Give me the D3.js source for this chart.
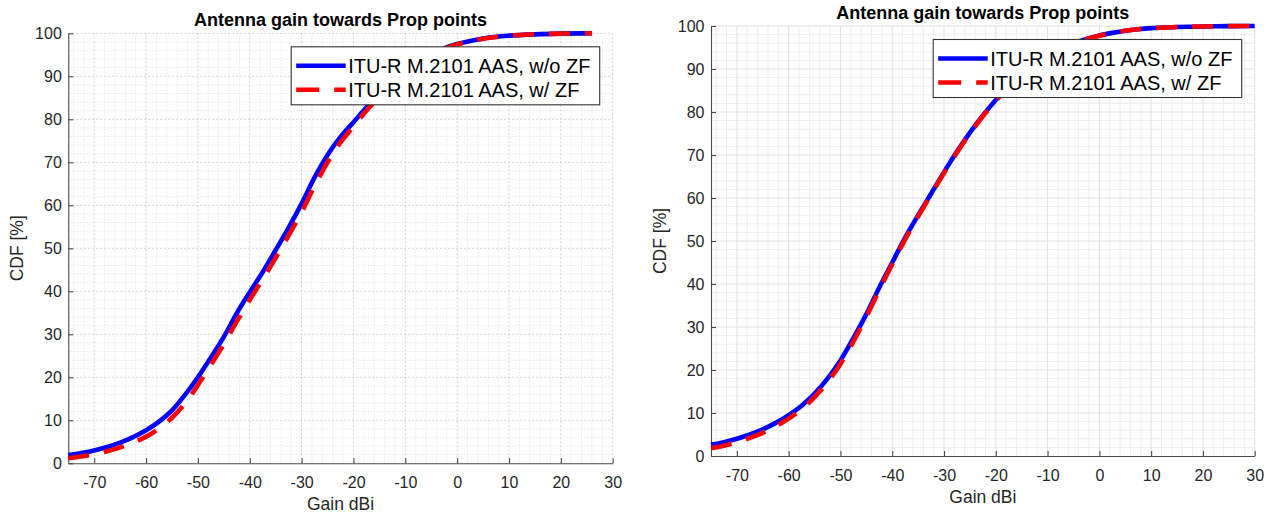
<!DOCTYPE html>
<html>
<head>
<meta charset="utf-8">
<script src="https://cdn.jsdelivr.net/npm/d3@7"></script>
<style>
  html, body { margin: 0; padding: 0; background: #fff; }
  svg { display: block; font-family: "Liberation Sans", Arial, Helvetica, sans-serif; }
</style>
</head>
<body>
<svg id="chart" width="1272" height="515"></svg>
<script>
// Axis ticks and text
const gainTicks = [-70, -60, -50, -40, -30, -20, -10, 0, 10, 20, 30];
const cdfTicks = [0, 10, 20, 30, 40, 50, 60, 70, 80, 90, 100];
const seriesLabels = ["ITU-R M.2101 AAS, w/o ZF", "ITU-R M.2101 AAS, w/ ZF"];
const chartTitle = "Antenna gain towards Prop points";
const xLabel = "Gain dBi";
const yLabel = "CDF [%]";

// Left panel: CDF of antenna gain (%), sampled along gain (dBi)
const leftGain = [-75, -72.5, -70, -67.5, -65, -62.5, -60, -57.5, -55, -52.5, -50, -47.5, -45, -42.5, -40, -37.5, -35, -32.5, -30, -27.5, -25, -22.5, -20, -17.5, -15, -12.5, -10, -7.5, -5, -2.5, 0, 2.5, 5, 7.5, 10, 15, 20, 26];
const leftCdfNoZF = [1.9, 2.4, 3.0, 3.8, 4.8, 6.1, 7.7, 9.7, 12.3, 15.9, 20.0, 24.6, 29.4, 34.9, 39.8, 44.5, 49.6, 54.8, 60.4, 66.5, 71.7, 75.9, 79.3, 82.8, 85.8, 88.6, 91.0, 93.1, 94.9, 96.5, 97.5, 98.2, 98.8, 99.2, 99.45, 99.75, 99.92, 100];
const leftCdfZF   = [1.2, 1.6, 2.1, 2.8, 3.7, 4.8, 6.2, 8.1, 10.6, 13.9, 18.2, 22.9, 27.7, 33.0, 38.0, 42.8, 47.8, 53.0, 58.4, 64.5, 70.0, 74.6, 78.3, 82.0, 85.2, 88.1, 90.6, 92.8, 94.7, 96.35, 97.4, 98.15, 98.75, 99.15, 99.45, 99.75, 99.92, 100];

// Right panel
const rightGain = [-75, -72.5, -70, -67.5, -65, -62.5, -60, -57.5, -55, -52.5, -50, -47.5, -45, -42.5, -40, -37.5, -35, -32.5, -30, -27.5, -25, -22.5, -20, -17.5, -15, -12.5, -10, -7.5, -5, -2.5, 0, 2.5, 5, 7.5, 10, 15, 20, 25, 30];
const rightCdfNoZF = [2.6, 3.2, 4.0, 5.0, 6.2, 7.7, 9.5, 11.7, 14.5, 18.0, 22.2, 27.4, 33.0, 39.2, 45.0, 50.8, 56.0, 61.0, 66.0, 70.8, 75.2, 79.2, 82.8, 86.0, 88.8, 91.2, 93.2, 94.8, 96.0, 97.0, 97.8, 98.4, 98.9, 99.25, 99.5, 99.75, 99.9, 99.97, 100];
const rightCdfZF   = [1.8, 2.4, 3.2, 4.2, 5.4, 6.9, 8.7, 10.9, 13.7, 17.2, 21.4, 26.6, 32.4, 38.6, 44.6, 50.4, 55.7, 60.8, 65.8, 70.6, 75.0, 79.0, 82.6, 85.9, 88.7, 91.1, 93.1, 94.75, 95.95, 96.95, 97.75, 98.4, 98.9, 99.25, 99.5, 99.75, 99.9, 99.97, 100];

const svg = d3.select("#chart");
const textColor = "#262626";
const axisColor = "#4a4a4a";

function drawPanel(p) {
  const x = d3.scaleLinear().domain([-75, 30]).range([p.left, p.right]);
  const y = d3.scaleLinear().domain([0, 100]).range([p.bottom, p.top]);
  const g = svg.append("g");

  // minor grid every 2 units
  const minorX = d3.range(-74, 31, 2).filter(v => v % 10 !== 0);
  const minorY = d3.range(2, 100, 2).filter(v => v % 10 !== 0);
  const grid = g.append("g");
  grid.selectAll("line.mx").data(minorX).join("line")
    .attr("x1", d => x(d)).attr("x2", d => x(d))
    .attr("y1", y(0)).attr("y2", y(100))
    .attr("stroke", p.minorColor).attr("stroke-width", 1)
    .attr("stroke-dasharray", p.minorDash);
  grid.selectAll("line.my").data(minorY).join("line")
    .attr("x1", x(-75)).attr("x2", x(30))
    .attr("y1", d => y(d)).attr("y2", d => y(d))
    .attr("stroke", p.minorColor).attr("stroke-width", 1)
    .attr("stroke-dasharray", p.minorDash);
  // major grid
  grid.selectAll("line.Mx").data(gainTicks).join("line")
    .attr("x1", d => x(d)).attr("x2", d => x(d))
    .attr("y1", y(0)).attr("y2", y(100))
    .attr("stroke", p.majorColor).attr("stroke-width", 1)
    .attr("stroke-dasharray", p.majorDash);
  grid.selectAll("line.My").data(cdfTicks.filter(v => v > 0)).join("line")
    .attr("x1", x(-75)).attr("x2", x(30))
    .attr("y1", d => y(d)).attr("y2", d => y(d))
    .attr("stroke", p.majorColor).attr("stroke-width", 1)
    .attr("stroke-dasharray", p.majorDash);

  // axes with inward ticks
  const xAxis = d3.axisBottom(x).tickValues(gainTicks).tickFormat(d => String(d))
    .tickSizeInner(-5).tickSizeOuter(0).tickPadding(p.xPad);
  const yAxis = d3.axisLeft(y).tickValues(cdfTicks).tickFormat(d => String(d))
    .tickSizeInner(-5).tickSizeOuter(0).tickPadding(6.5);
  const gx = g.append("g").attr("transform", `translate(0,${y(0)})`).call(xAxis);
  const gy = g.append("g").attr("transform", `translate(${x(-75)},0)`).call(yAxis);
  [gx, gy].forEach(a => {
    a.select(".domain").attr("stroke", axisColor).attr("stroke-width", 1.1);
    a.selectAll(".tick line").attr("stroke", axisColor).attr("stroke-width", 1.1);
    a.selectAll(".tick text").attr("fill", textColor)
      .style("font-size", "16px").style("font-family", "Liberation Sans, Arial, sans-serif");
  });

  // curves
  const line = d3.line().x(d => x(d[0])).y(d => y(d[1])).curve(d3.curveMonotoneX);
  g.append("path").datum(d3.zip(p.gain, p.noZF))
    .attr("d", line).attr("fill", "none")
    .attr("stroke", "#0000ff").attr("stroke-width", 4.6).attr("stroke-linejoin", "round");
  g.append("path").datum(d3.zip(p.gain, p.zF))
    .attr("d", line).attr("fill", "none")
    .attr("stroke", "#ff0000").attr("stroke-width", 4.6)
    .attr("stroke-dasharray", "21,15");

  // title and axis labels
  const cx = (p.left + p.right) / 2;
  g.append("text").attr("x", cx).attr("y", p.top - 7)
    .attr("text-anchor", "middle").attr("fill", "#000")
    .style("font-size", "18px").style("font-weight", "bold").text(chartTitle);
  g.append("text").attr("x", cx).attr("y", p.bottom + 47)
    .attr("text-anchor", "middle").attr("fill", textColor)
    .style("font-size", "17.5px").text(xLabel);
  g.append("text")
    .attr("transform", `translate(${p.left - 45.5},${(p.top + p.bottom) / 2}) rotate(-90)`)
    .attr("text-anchor", "middle").attr("fill", textColor)
    .style("font-size", "17.5px").text(yLabel);

  // legend
  const lw = 308.5, lh = 58;
  const lx = p.right - 13 - lw, ly = p.top + 13.5;
  const lg = g.append("g").attr("transform", `translate(${lx},${ly})`);
  lg.append("rect").attr("width", lw).attr("height", lh)
    .attr("fill", "#fff").attr("stroke", "#333").attr("stroke-width", 1.1);
  const rows = [
    { label: seriesLabels[0], color: "#0000ff", dash: null, dy: 19 },
    { label: seriesLabels[1], color: "#ff0000", dash: "23,15", dy: 43 }
  ];
  rows.forEach(r => {
    lg.append("line").attr("x1", 5).attr("x2", 54.5).attr("y1", r.dy).attr("y2", r.dy)
      .attr("stroke", r.color).attr("stroke-width", 4.6)
      .attr("stroke-dasharray", r.dash);
    lg.append("text").attr("x", 57).attr("y", r.dy).attr("dy", "0.36em")
      .attr("fill", "#000").style("font-size", "20px").text(r.label);
  });
}

drawPanel({
  left: 68.3, right: 612.7, top: 33.3, bottom: 463.3, xPad: 13.8,
  gain: leftGain, noZF: leftCdfNoZF, zF: leftCdfZF,
  majorColor: "#cfcfcf", majorDash: "2,2", minorColor: "#dedede", minorDash: "1,2"
});
drawPanel({
  left: 711, right: 1254.7, top: 26, bottom: 456, xPad: 13.3,
  gain: rightGain, noZF: rightCdfNoZF, zF: rightCdfZF,
  majorColor: "#e0e0e0", majorDash: null, minorColor: "#eeeeee", minorDash: null
});
</script>
</body>
</html>
